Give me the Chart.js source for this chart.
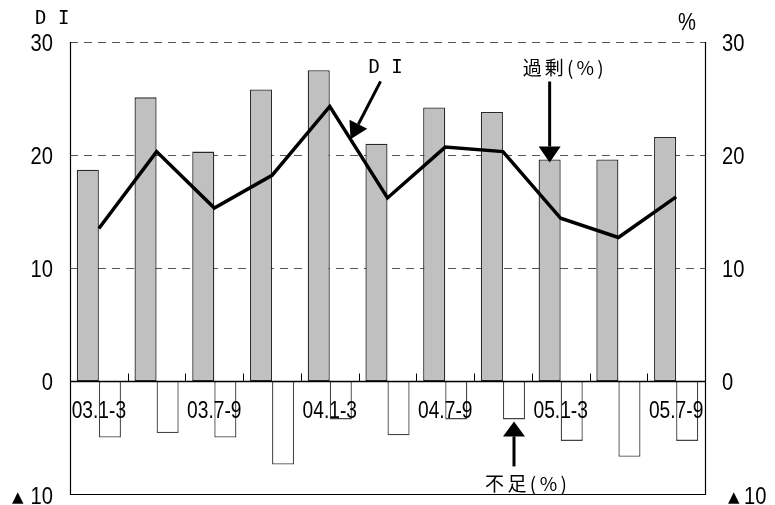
<!DOCTYPE html>
<html>
<head>
<meta charset="utf-8">
<script src="https://cdn.jsdelivr.net/npm/chart.js@4"></script>
<style>
  body { margin: 0; background: #fff; }
  canvas { display: block; }
</style>
</head>
<body>
<canvas id="chart" width="775" height="505"></canvas>
<script>
const categories = ["03.1-3", "03.4-6", "03.7-9", "03.10-12", "04.1-3", "04.4-6", "04.7-9", "04.10-12", "05.1-3", "05.4-6", "05.7-9"];
const surplus = [18.7, 25.1, 20.3, 25.8, 27.5, 21.0, 24.2, 23.8, 19.6, 19.6, 21.6];
const shortage = [-5.0, -4.6, -5.0, -7.4, -3.4, -4.8, -3.4, -3.4, -5.3, -6.7, -5.3];
const di = [13.5, 20.3, 15.3, 18.2, 24.3, 16.2, 20.7, 20.3, 14.4, 12.7, 16.3];
const yTicks = [30, 20, 10, 0, -10];
const gridValues = [30, 20, 10];

const numFont = "'Liberation Sans', Arial, sans-serif";
const jpFont = "'Noto Sans CJK JP', sans-serif";

// narrow text like the original (condensed Arial look)
function squeezeText(ctx, text, x, y, align, size, sx) {
  ctx.save();
  ctx.font = size + "px " + numFont;
  ctx.textAlign = align;
  ctx.textBaseline = "middle";
  ctx.translate(x, y);
  ctx.scale(sx, 1);
  ctx.fillText(text, 0, 0);
  ctx.restore();
}

// draw chars one by one, spread to a given width (left edge x)
function spreadText(ctx, text, x, y, width) {
  const chars = Array.from(text);
  let total = 0;
  chars.forEach(function(c) { total += ctx.measureText(c).width; });
  const gap = (width - total) / (chars.length - 1);
  ctx.textAlign = "left";
  ctx.textBaseline = "middle";
  let cx = x;
  chars.forEach(function(c) {
    ctx.fillText(c, cx, y);
    cx += ctx.measureText(c).width + gap;
  });
}

function arrow(ctx, x1, y1, x2, y2, headLen, headHalf) {
  const ang = Math.atan2(y2 - y1, x2 - x1);
  const bx = x2 - headLen * Math.cos(ang);
  const by = y2 - headLen * Math.sin(ang);
  ctx.beginPath();
  ctx.moveTo(x1, y1);
  ctx.lineTo(bx, by);
  ctx.lineWidth = 3;
  ctx.strokeStyle = "#000";
  ctx.stroke();
  ctx.beginPath();
  ctx.moveTo(x2, y2);
  ctx.lineTo(bx + headHalf * Math.sin(ang), by - headHalf * Math.cos(ang));
  ctx.lineTo(bx - headHalf * Math.sin(ang), by + headHalf * Math.cos(ang));
  ctx.closePath();
  ctx.fillStyle = "#000";
  ctx.fill();
}

const framePlugin = {
  id: "frame",
  beforeDatasetsDraw(chart) {
    const ctx = chart.ctx;
    const area = chart.chartArea;
    const y = chart.scales.y;
    ctx.save();
    ctx.strokeStyle = "#555";
    ctx.lineWidth = 1;
    ctx.setLineDash([8, 6]);
    gridValues.forEach(function(v) {
      const py = Math.round(y.getPixelForValue(v)) + 0.5;
      ctx.beginPath();
      ctx.moveTo(area.left, py);
      ctx.lineTo(area.right, py);
      ctx.stroke();
    });
    ctx.restore();
  },
  afterDatasetsDraw(chart) {
    const ctx = chart.ctx;
    const area = chart.chartArea;
    const x = chart.scales.x;
    const y = chart.scales.y;
    const zeroY = Math.round(y.getPixelForValue(0)) + 0.5;
    ctx.save();
    ctx.strokeStyle = "#000";
    ctx.lineWidth = 1.5;
    ctx.beginPath();
    ctx.moveTo(area.left, zeroY);
    ctx.lineTo(area.right, zeroY);
    ctx.stroke();

    // tick marks on category boundaries
    ctx.lineWidth = 1;
    for (let i = 0; i < categories.length - 1; i++) {
      const bx = Math.round((x.getPixelForValue(i) + x.getPixelForValue(i + 1)) / 2) + 0.5;
      ctx.beginPath();
      ctx.moveTo(bx, zeroY);
      ctx.lineTo(bx, zeroY - 8);
      ctx.stroke();
    }

    // frame: left, right, bottom
    ctx.lineWidth = 1.2;
    ctx.beginPath();
    ctx.moveTo(area.left + 0.5, area.top);
    ctx.lineTo(area.left + 0.5, area.bottom + 0.5);
    ctx.lineTo(area.right + 0.5, area.bottom + 0.5);
    ctx.lineTo(area.right + 0.5, area.top);
    ctx.stroke();
    ctx.restore();
  },
  afterDraw(chart) {
    const ctx = chart.ctx;
    const area = chart.chartArea;
    const x = chart.scales.x;
    const y = chart.scales.y;
    ctx.save();
    ctx.fillStyle = "#000";

    // y tick labels, both sides
    yTicks.forEach(function(v) {
      const py = y.getPixelForValue(v) + 2;
      if (v >= 0) {
        squeezeText(ctx, String(v), area.left - 17, py, "right", 24, 0.84);
        squeezeText(ctx, String(v), area.right + 17, py, "left", 24, 0.84);
      } else {
        squeezeText(ctx, String(-v), area.left - 17, py + 1, "right", 24, 0.84);
        squeezeText(ctx, String(-v), area.right + 39, py + 1, "left", 24, 0.84);
        ctx.font = "15px 'DejaVu Sans', sans-serif";
        ctx.textAlign = "left";
        ctx.textBaseline = "middle";
        ctx.fillText("▲", area.left - 58, py + 2);
        ctx.fillText("▲", area.right + 23, py + 2);
      }
    });

    // x labels (every other category), inside the plot under zero
    const zeroY = y.getPixelForValue(0);
    categories.forEach(function(c, i) {
      if (i % 2 === 0) {
        squeezeText(ctx, c, x.getPixelForValue(i), zeroY + 30, "center", 24, 0.8);
      }
    });

    // axis titles
    ctx.font = "19px 'DejaVu Sans Mono', monospace";
    ctx.textAlign = "left";
    ctx.textBaseline = "middle";
    ctx.fillText("D I", 35, 19);
    squeezeText(ctx, "%", 687, 23, "center", 24, 0.84);

    // DI annotation, pointing at the line between points 4 and 5
    const lineMeta = chart.getDatasetMeta(0);
    const p4 = lineMeta.data[4];
    const p5 = lineMeta.data[5];
    const t = 0.36;
    const tipX = p4.x + (p5.x - p4.x) * t;
    const tipY = p4.y + (p5.y - p4.y) * t;
    arrow(ctx, tipX + 30, tipY - 58, tipX, tipY, 17, 10);
    ctx.font = "19px 'DejaVu Sans Mono', monospace";
    ctx.textAlign = "center";
    ctx.fillText("D I", tipX + 35, tipY - 71);

    // 過剰 annotation, pointing at grey bar 8
    const gBar = chart.getDatasetMeta(1).data[8];
    arrow(ctx, gBar.x, gBar.y - 78, gBar.x, gBar.y + 3, 16, 11);
    ctx.font = "19px " + jpFont;
    spreadText(ctx, "過剰(%)", gBar.x - 27, gBar.y - 92, 81);

    // 不足 annotation, pointing at white bar 7
    const wBar = chart.getDatasetMeta(2).data[7];
    arrow(ctx, wBar.x, wBar.y + 47, wBar.x, wBar.y + 2, 15, 11);
    ctx.font = "19px " + jpFont;
    spreadText(ctx, "不足(%)", wBar.x - 29, wBar.y + 64, 82);

    ctx.restore();
  }
};

const ctx = document.getElementById("chart");
const myChart = new Chart(ctx, {
  data: {
    labels: categories,
    datasets: [
      {
        type: "line",
        label: "DI",
        data: di,
        borderColor: "#000",
        borderWidth: 3.5,
        pointRadius: 0,
        tension: 0,
        fill: false
      },
      {
        type: "bar",
        label: "過剰(%)",
        data: surplus,
        backgroundColor: "#c0c0c0",
        borderColor: "#2a2a2a",
        borderWidth: 1.3,
        borderSkipped: false,
        categoryPercentage: 0.765,
        barPercentage: 1.0
      },
      {
        type: "bar",
        label: "不足(%)",
        data: shortage,
        backgroundColor: "#ffffff",
        borderColor: "#444444",
        borderWidth: 1.3,
        borderSkipped: false,
        categoryPercentage: 0.765,
        barPercentage: 1.0
      }
    ]
  },
  options: {
    responsive: false,
    animation: false,
    devicePixelRatio: 1,
    layout: { padding: { left: 70, right: 70, top: 42, bottom: 11 } },
    plugins: { legend: { display: false }, tooltip: { enabled: false } },
    scales: {
      x: { type: "category", display: false, offset: true, grid: { display: false } },
      y: { display: false, min: -10, max: 30, grid: { display: false } }
    }
  },
  plugins: [framePlugin]
});
</script>
</body>
</html>
